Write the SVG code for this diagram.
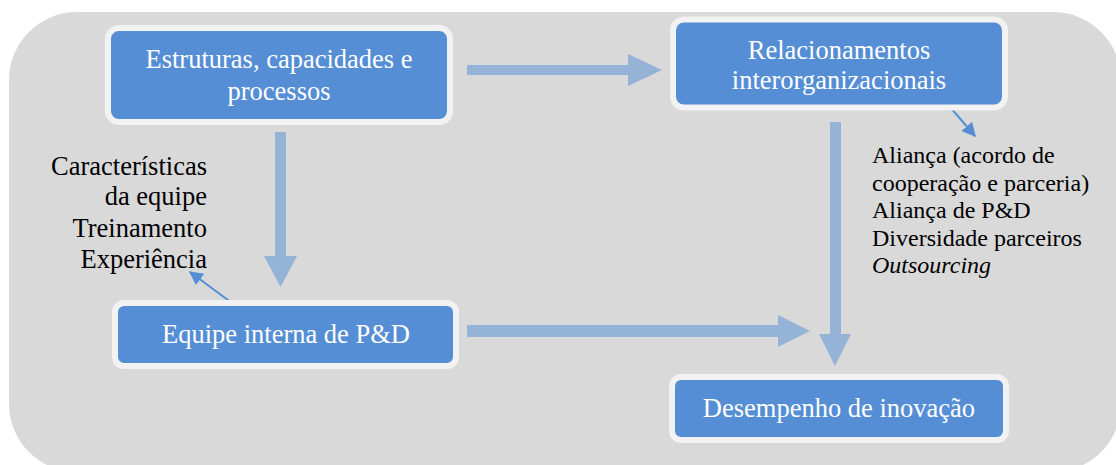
<svg xmlns="http://www.w3.org/2000/svg" width="1116" height="465" viewBox="0 0 1116 465">
<style>
.box{fill:#558ED5;stroke:#F2F2F2;stroke-width:6}
.nt{font-family:'Liberation Serif','Times New Roman','DejaVu Serif',serif;font-size:26.5px;fill:#FFFFFF;text-anchor:middle}
.lt{font-family:'Liberation Serif','Times New Roman','DejaVu Serif',serif;font-size:26.5px;fill:#000000;text-anchor:end}
.rt{font-family:'Liberation Serif','Times New Roman','DejaVu Serif',serif;font-size:24px;fill:#000000}
.fat{fill:#95B3D7}
.thin{stroke:#558ED5;stroke-width:2;fill:none}
</style>
<defs>
<marker id="ah2" viewBox="0 0 10 10" refX="9" refY="5" markerWidth="14" markerHeight="14" markerUnits="userSpaceOnUse" orient="auto">
<path d="M0,0 L10,5 L0,10 Z" fill="#558ED5"/>
</marker>
</defs>
<rect x="9" y="12" width="1112" height="460" rx="68" ry="68" fill="#D9D9D9"/>
<g id="connectors">
<rect class="fat" x="467" y="65" width="162" height="10"/>
<polygon class="fat" points="628,54 662,70 628,86"/>
<rect class="fat" x="275" y="132" width="11" height="125"/>
<polygon class="fat" points="264,256 297,256 280.5,287"/>
<rect class="fat" x="467" y="325" width="312" height="12"/>
<polygon class="fat" points="778,315 810,331 778,347"/>
<rect class="fat" x="830" y="122" width="11" height="213"/>
<polygon class="fat" points="819,334 851,334 835,366"/>
<line class="thin" x1="950" y1="107" x2="975" y2="136" marker-end="url(#ah2)"/>
<line class="thin" x1="232" y1="303" x2="190" y2="272" marker-end="url(#ah2)"/>
</g>
<g id="node-estruturas">
<rect class="box" x="108" y="28" width="342" height="94" rx="11"/>
<text class="nt" x="279" y="68">Estruturas, capacidades e</text>
<text class="nt" x="279" y="100">processos</text>
</g>
<g id="node-relacionamentos">
<rect class="box" x="673" y="19.5" width="332" height="88" rx="11"/>
<text class="nt" x="839" y="59">Relacionamentos</text>
<text class="nt" x="839" y="89">interorganizacionais</text>
</g>
<g id="node-equipe">
<rect class="box" x="115" y="303" width="341" height="63" rx="9"/>
<text class="nt" x="286" y="343">Equipe interna de P&amp;D</text>
</g>
<g id="node-desempenho">
<rect class="box" x="672" y="377" width="334" height="63" rx="9"/>
<text class="nt" x="839" y="417">Desempenho de inovação</text>
</g>
<g id="label-equipe">
<text class="lt" x="207" y="175">Características</text>
<text class="lt" x="207" y="205">da equipe</text>
<text class="lt" x="207" y="237">Treinamento</text>
<text class="lt" x="207" y="268">Experiência</text>
</g>
<g id="label-relacionamentos">
<text class="rt" x="872" y="163">Aliança (acordo de</text>
<text class="rt" x="872" y="191">cooperação e parceria)</text>
<text class="rt" x="872" y="218">Aliança de P&amp;D</text>
<text class="rt" x="872" y="246">Diversidade parceiros</text>
<text class="rt" x="872" y="273" font-style="italic">Outsourcing</text>
</g>
</svg>
